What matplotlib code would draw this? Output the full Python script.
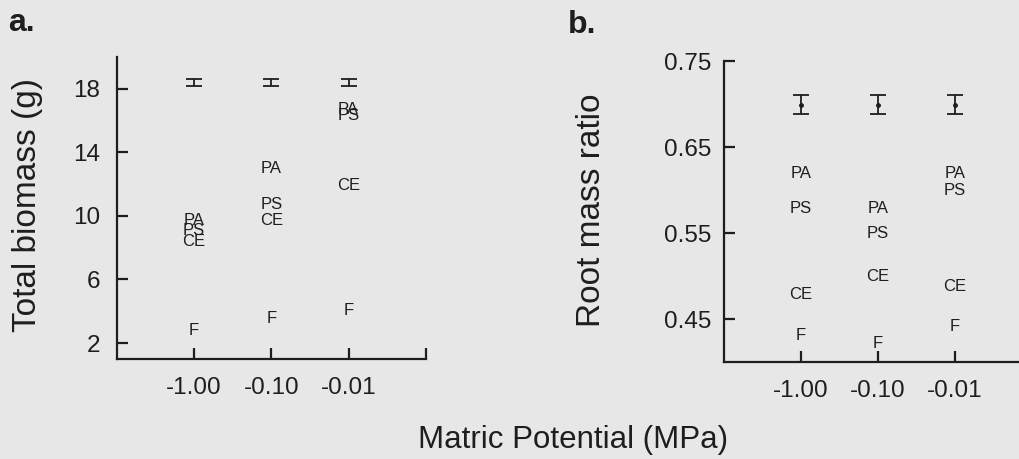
import numpy as np
import matplotlib
matplotlib.use("Agg")
import matplotlib.pyplot as plt

plt.rcParams['font.family'] = ['Liberation Sans', 'DejaVu Sans']

# matric potential treatments
x_labels = ['-1.00', '-0.10', '-0.01']
x_pos = [1, 2, 3]
species = ['PA', 'PS', 'CE', 'F']

# panel a: total biomass (g), one list per species
biomass = {
    'PA': [9.7, 13.0, 16.7],
    'PS': [9.1, 10.7, 16.3],
    'CE': [8.4, 9.7, 11.9],
    'F':  [2.8, 3.55, 4.05],
}
biomass_err_y = [18.37, 18.37, 18.37]
biomass_err = [0.22, 0.22, 0.22]

# panel b: root mass ratio
rmr = {
    'PA': [0.619, 0.579, 0.619],
    'PS': [0.579, 0.550, 0.599],
    'CE': [0.479, 0.499, 0.488],
    'F':  [0.431, 0.422, 0.441],
}
rmr_err_y = [0.699, 0.699, 0.699]
rmr_err = [0.011, 0.011, 0.011]

bg = '#e7e7e7'
ink = '#1e1e1e'

fig = plt.figure(figsize=(10.19, 4.59), dpi=100, facecolor=bg)
ax1 = fig.add_axes([0.1148, 0.218, 0.303, 0.658])
ax2 = fig.add_axes([0.7105, 0.2113, 0.302, 0.6557])


def style(ax, ylim, yticks, ylab, pad_y, lab_x, lab_y):
    ax.set_facecolor('none')
    ax.set_xlim(0, 4)
    ax.set_ylim(*ylim)
    for s in ['top', 'right']:
        ax.spines[s].set_visible(False)
    for s in ['left', 'bottom']:
        ax.spines[s].set_linewidth(1.6)
        ax.spines[s].set_color(ink)
    ax.set_xticks(x_pos)
    ax.set_xticklabels(x_labels)
    ax.set_xticks([4], minor=True)
    ax.set_yticks(yticks)
    ax.tick_params(axis='x', which='both', direction='in', length=8, width=1.6,
                   color=ink, labelsize=17.5, labelcolor=ink, pad=13)
    ax.tick_params(axis='y', direction='in', length=8, width=1.6,
                   color=ink, labelsize=17.5, labelcolor=ink, pad=pad_y)
    ax.set_ylabel(ylab, fontsize=24, color=ink)
    ax.yaxis.set_label_coords(lab_x, lab_y)


style(ax1, (1, 20), [2, 6, 10, 14, 18], 'Total biomass (g)', 12, -0.24, 0.51)
style(ax2, (0.40, 0.75), [0.45, 0.55, 0.65, 0.75], 'Root mass ratio', 9, -0.38, 0.505)
ax2.set_yticklabels(['0.45', '0.55', '0.65', '0.75'])

for ax, data in [(ax1, biomass), (ax2, rmr)]:
    for sp in species:
        for xi, yi in zip(x_pos, data[sp]):
            ax.text(xi, yi, sp, ha='center', va='center', fontsize=12,
                    color=ink, clip_on=False)

ax1.errorbar(x_pos, biomass_err_y, yerr=biomass_err, fmt='none', ecolor=ink,
             elinewidth=1.3, capsize=5.5, capthick=1.3)
ax2.errorbar(x_pos, rmr_err_y, yerr=rmr_err, fmt='o', ms=2.5, color=ink,
             ecolor=ink, elinewidth=1.3, capsize=6, capthick=1.3)

fig.text(8 / 1019, 1 - 31 / 459, 'a.', fontsize=23, fontweight='bold', color=ink)
fig.text(568 / 1019, 1 - 33 / 459, 'b.', fontsize=23, fontweight='bold', color=ink)
fig.text(573 / 1019, 1 - 440 / 459, 'Matric Potential (MPa)', fontsize=22.5,
         color=ink, ha='center', va='center')

fig.savefig('out.png', dpi=100, facecolor=bg)
